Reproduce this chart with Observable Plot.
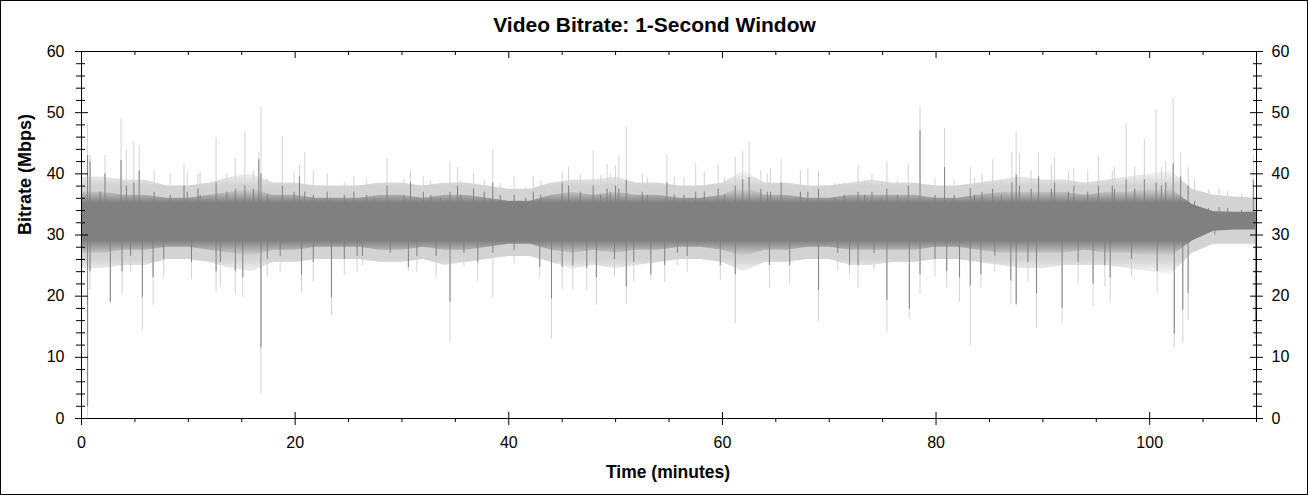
<!DOCTYPE html>
<html>
<head>
<meta charset="utf-8">
<script src="https://cdn.jsdelivr.net/npm/d3@7"></script>
<script src="https://cdn.jsdelivr.net/npm/@observablehq/plot@0.6"></script>
<style>
  html, body { margin: 0; padding: 0; background: #fff; }
  #wrap { width: 1306px; height: 493px; border: 1px solid #000; background: #fff; }
  #wrap svg { display: block; }
</style>
</head>
<body>
<div id="wrap"></div>
<script>
// ---- chart data ----
const title = "Video Bitrate: 1-Second Window";
const xLabel = "Time (minutes)";
const yLabel = "Bitrate (Mbps)";

const xTicks = [0, 20, 40, 60, 80, 100];
const xMinor = [5, 10, 15, 25, 30, 35, 45, 50, 55, 65, 70, 75, 85, 90, 95, 105, 110];
const yTicks = [0, 10, 20, 30, 40, 50, 60];
const yMinor = [2, 4, 6, 8, 12, 14, 16, 18, 22, 24, 26, 28, 32, 34, 36, 38, 42, 44, 46, 48, 52, 54, 56, 58];

const median = 32; // centre of the signal

// outer extent of the dense band, every 2 minutes
const minutes = [0,2,4,6,8,10,12,14,16,18,20,22,24,26,28,30,32,34,36,38,40,42,44,46,48,50,52,54,56,58,60,62,64,66,68,70,72,74,76,78,80,82,84,86,88,90,92,94,96,98,100,102,104,106,108,110];
const lightHi = [39.5,39.5,39,39,38,38,38.5,39.5,40,38.5, 38.5,38,38,38,38.5,38.5,38,38.5,38.5,38, 37.5,37.5,38.5,39,39,39.5,38.5,38.5,38,38, 38.5,40.5,38.5,38.5,38,38,38.5,39,38.5,38.5, 38,38,38.5,39,39.5,39,39,38.5,39,39.5, 40,40.5,37.5,36.5,36.2,36];
const lightLo = [24.5,24.5,25,25,26,26,25.5,24.5,24,25.5, 25.5,26,26,26,25.5,25.5,26,25,25.5,26, 26.5,26.5,25.5,24.5,25,24.5,25,25.5,26,26, 25.5,24,25.5,25.5,26,26,25,25,25.5,25.5, 26,26,25.5,25,24.5,24.5,25,25,25,24.5, 24,23.5,27,28.5,28.5,28.5];
const darkHi = [37,37,36.5,36.5,36,36,36.5,37,37.5,36.5, 36.5,36,36,36,36.5,36.5,36,36.5,36.5,36, 35.5,35.5,36.5,37,36.5,37,36.5,36.5,36,36, 36.5,38,36.5,36.5,36,36,36.5,36.5,36.5,36.5, 36,36,36.5,37,37,37,37,36.5,37,37, 37.5,37.5,35,33.8,33.7,33.7];
const darkLo = [27,27,27.5,27.5,28,28,27.5,27,26.5,27.5, 27.5,28,28,28,27.5,27.5,28,27.5,27.5,28, 28.5,28.5,27.5,27,27.5,27,27.5,27.5,28,28, 27.5,26.5,27.5,27.5,28,28,27.5,27.5,27.5,27.5, 28,28,27.5,27,27,27,27,27.5,27,27, 26.5,26.5,29,30.6,30.8,30.8];

// large upward spikes: time, light peak, dark peak
const peakTime  = [0.57,0.8,2.2,3.7,4.2,4.9,5.4,6.8,9.6,10.9,12.6,14.4,15.3,16.6,16.8,18.8,20.4,20.9,23.0,25.5,28.6,30.8,32.0,34.5,35.2,36.7,38.5,40.5,42.3,45.0,45.6,47.9,49.2,50.0,50.3,51.0,52.5,54.8,57.5,59.6,61.2,61.9,62.5,64.2,65.5,67.3,69.0,72.7,74.0,75.4,77.4,78.5,80.8,83.2,85.3,87.1,87.5,87.8,89.6,91.1,92.9,95.2,96.5,97.8,99.5,100.6,101.5,102.2,102.9,103.6,106.5,109.7];
const peakLight = [48.2,43,43,49,44,45.2,44.5,40.5,41.5,40,45.8,42.5,46.8,43.5,50.9,46.1,41.5,43.5,40,39.5,42.6,40.5,39.5,41.9,41,40.1,43.9,39.5,39.5,40.3,41,43.8,41.5,41.3,42.8,47.6,40,43,41.7,41.5,42.7,43.6,45.2,40,42.3,40.5,40.5,41.3,40,41.9,41.6,50.9,47.4,41.1,42.3,43.5,46.8,43.2,43.5,42.6,40.8,42.8,40.5,48.2,45.7,50.6,42,52.3,43.5,41,37.6,43];
const peakDark  = [43,42,40,42.2,38,38.5,40.5,37,38,37.5,38.5,37.5,38,42.3,40,38,39.5,37,37,37,38,38.5,37,37,38,37.5,38.5,36.5,37,38.5,38,38,37.5,38,37.5,38.9,37,38.5,37,37.5,38,39,39.4,37,38.5,37,37.5,37,37,37.5,38,47.1,41,37.6,37.5,38.5,39.8,38,39.5,38.5,38,38,38,39,39,38.5,38.5,41.6,39.5,38,34.5,39];

// smaller upward spikes
const minorPeakTime  = [1.75,8.3,9.9,11.1,13.6,16.1,17.4,19.9,21.7,23.3,24.6,26.7,27.4, 30.2,32.7,33.6,35.5,37.7,39.2,41.6,43.0,46.7,48.6,49.5,53.0,55.5, 56.4,58.3,60.2,63.6,64.5,68.0,70.5,71.4,73.3,74.9,76.4,79.9,81.7,83.6, 84.3,86.1,88.9,90.8,92.4,94.2,96.7,98.6,101.1,104.2,105.5,107.3,108.6];
const minorPeakLight = [38.9,40,40.3,40.3,40,40.5,39.2,40.3,40.5,37.8,38.6,39.2,37.8, 39.2,38.9,37.8,38.9,38.9,38.4,37.8,38.9,40,39.7,40,39.2,39.4, 39.4,40.3,39.4,40.5,40.8,40.8,38.4,38.6,38.9,38.4,38.9,39.2,38.9,39.2, 40,38.9,40.5,41.4,40.5,40.5,41.1,41.1,41.1,38.9,37.3,37.3,36.7];
const minorPeakDark  = [37,36.5,37,36.5,37,37.5,36.5,37,36.5,36,36.5,36.5,36, 36.5,36.5,36,36.5,37,36.5,36,36.5,37,36.5,37,36.5,36.5, 36.5,37,36.5,37.5,37,37,36,36.5,36.5,36,36.5,36.5,36.5,36.5, 37,36.5,37.5,37.5,37,37,37.5,37.5,38,35.5,34.3,34.3,34];

// large downward spikes: time, light low, dark low
const dipTime  = [0.57,0.8,2.7,3.8,5.7,6.7,10.3,12.6,14.4,15.1,16.8,20.6,23.4,26.3,30.6,33.2,34.5,38.5,42.9,44.0,45.0,46.0,47.3,48.2,51.0,53.3,54.6,59.8,61.2,66.3,69.0,71.9,75.4,77.5,78.5,81.0,82.2,83.2,84.2,87.0,87.5,89.4,91.8,94.7,96.3,100.7,102.3,103.1,103.6,109.9];
const dipLight = [0,21,18.7,20.3,14.4,18.5,22.7,20.7,20.3,19.8,4,20.6,16.8,25,24,23,12.5,19.6,23,13,21,21,20.9,18.5,18.6,22.5,22.3,22.5,15.5,22,15.8,23.5,14.1,16.3,20.3,21.3,19,11.9,21.3,18.6,18.3,14.9,15.5,18.3,19,20.5,11.4,12.3,16,13];
const dipDark  = [1.9,24,19,24,19.8,23,25.5,24,24,23,11.5,23.4,19.8,26.5,24.7,26.5,19,27,24.7,19.6,24.7,25,24.5,23,21.5,23.5,25,25,23.5,25,20.9,25,19.3,17.9,23.5,24,23,21.7,23.5,22.5,18.7,20.4,18,22,23,24,13.8,17.7,20.5,16];

// smaller downward spikes
const minorDipTime  = [4.6,7.7,13.0,17.4,18.6,21.7,24.6,25.8, 28.9,31.4,35.8,37.1,40.5,49.9,51.7,55.8, 56.7,64.4,70.8,72.7,74.2,79.9, 85.5,88.6,93.3,95.8,98.3,106.1];
const minorDipLight = [23.9,23.1,21.5,23.1,23.9,22.3,23.4,23.9, 25.8,23.9,24.7,22.3,25.3,23.1,22.3,25, 23.9,21.3,24.2,21.3,24.2,23.1, 23.9,22.3,22,21.5,23.1,28.3];
const minorDipDark  = [26.5,26,25.5,26,26.5,25.5,26,26.5, 27,26.5,27,25.5,27.5,26,25.5,27, 26.5,25,27,25,27,26, 26.5,25.5,25.5,25,26,30];

// ---- tables built from the arrays ----
const envelope = minutes.map((t, i) => ({t, lightHi: lightHi[i], lightLo: lightLo[i], darkHi: darkHi[i], darkLo: darkLo[i]}));
const spikes = [
  ...peakTime.map((t, i) => ({t, light: peakLight[i], dark: peakDark[i]})),
  ...minorPeakTime.map((t, i) => ({t, light: minorPeakLight[i], dark: minorPeakDark[i]})),
  ...dipTime.map((t, i) => ({t, light: dipLight[i], dark: dipDark[i]})),
  ...minorDipTime.map((t, i) => ({t, light: minorDipLight[i], dark: minorDipDark[i]}))
];

const LIGHT = "#d3d3d3";
const DARK = "#808080";
const FONT = "'Liberation Sans', Arial, Helvetica, sans-serif";

const chart = Plot.plot({
  width: 1306,
  height: 493,
  marginLeft: 80,
  marginRight: 51,
  marginTop: 50,
  marginBottom: 76,
  style: {fontFamily: FONT, fontSize: "16px", background: "#fff", color: "#000", overflow: "visible"},
  x: {domain: [0, 110], axis: null},
  y: {domain: [0, 60], axis: null},
  marks: [
    // light series
    Plot.areaY(envelope, {x: "t", y1: "lightLo", y2: "lightHi", fill: "url(#lightGrad)"}),
    Plot.ruleX(spikes, {x: "t", y1: median, y2: "light", stroke: LIGHT, strokeWidth: 1}),
    // dark series
    Plot.areaY(envelope, {x: "t", y1: "darkLo", y2: "darkHi", fill: "url(#darkGrad)"}),
    Plot.ruleX(spikes, {x: "t", y1: median, y2: "dark", stroke: DARK, strokeWidth: 1}),
    Plot.frame({stroke: "#000"}),
    // left axis
    Plot.axisY(yTicks, {anchor: "left", tickSize: 13, dx: 7, text: null, label: null, stroke: "#000"}),
    Plot.axisY(yMinor, {anchor: "left", tickSize: 9, dx: 4, text: null, label: null, stroke: "#000"}),
    Plot.axisY(yTicks, {anchor: "left", tickSize: 0, tickPadding: 17, label: null, fontSize: 16, fill: "#000"}),
    // right axis
    Plot.axisY(yTicks, {anchor: "right", tickSize: 13, dx: -7, text: null, label: null, stroke: "#000"}),
    Plot.axisY(yMinor, {anchor: "right", tickSize: 9, dx: -4, text: null, label: null, stroke: "#000"}),
    Plot.axisY(yTicks, {anchor: "right", tickSize: 0, tickPadding: 15, label: null, fontSize: 16, fill: "#000"}),
    // bottom axis
    Plot.axisX(xTicks, {anchor: "bottom", tickSize: 13, dy: -6, text: null, label: null, stroke: "#000"}),
    Plot.axisX(xMinor, {anchor: "bottom", tickSize: 4, text: null, label: null, stroke: "#000"}),
    Plot.axisX(xTicks, {anchor: "bottom", tickSize: 0, tickPadding: 18, label: null, fontSize: 16, fill: "#000"}),
    // top (opposite) ticks
    Plot.axisX(xTicks, {anchor: "top", tickSize: 6, dy: 6, text: null, label: null, stroke: "#000"}),
    Plot.axisX(xMinor, {anchor: "top", tickSize: 3, dy: 3, text: null, label: null, stroke: "#000"}),
    // titles
    Plot.text([title], {frameAnchor: "top", dx: -14.5, dy: -26.5, fontSize: 21, fontWeight: "bold", fill: "#000", lineAnchor: "middle"}),
    Plot.text([xLabel], {frameAnchor: "bottom", dx: -1, dy: 53.5, fontSize: 17.5, fontWeight: "bold", fill: "#000", lineAnchor: "middle"}),
    Plot.text([yLabel], {frameAnchor: "left", dx: -56.5, rotate: -90, fontSize: 18, fontWeight: "bold", fill: "#000", lineAnchor: "middle"})
  ]
});

// vertical gradients that give the dense band its fuzzy edges (positions from Plot's y scale)
const yScale = chart.scale("y");
const svg = d3.select(chart);
const defs = svg.insert("defs", ":first-child");
function addGradient(id, color, stops) {
  const top = stops[0][0], bottom = stops[stops.length - 1][0];
  const y1 = yScale.apply(top), y2 = yScale.apply(bottom);
  const g = defs.append("linearGradient").attr("id", id)
    .attr("gradientUnits", "userSpaceOnUse")
    .attr("x1", 0).attr("x2", 0).attr("y1", y1).attr("y2", y2);
  for (const [v, op] of stops) {
    g.append("stop")
      .attr("offset", (yScale.apply(v) - y1) / (y2 - y1))
      .attr("stop-color", color)
      .attr("stop-opacity", op);
  }
}
addGradient("lightGrad", LIGHT, [[41, 0], [38, 1], [26, 1], [23, 0]]);
addGradient("darkGrad", DARK, [[37.5, 0], [35.2, 1], [29, 1], [26.5, 0]]);

document.getElementById("wrap").appendChild(chart);
</script>
</body>
</html>
